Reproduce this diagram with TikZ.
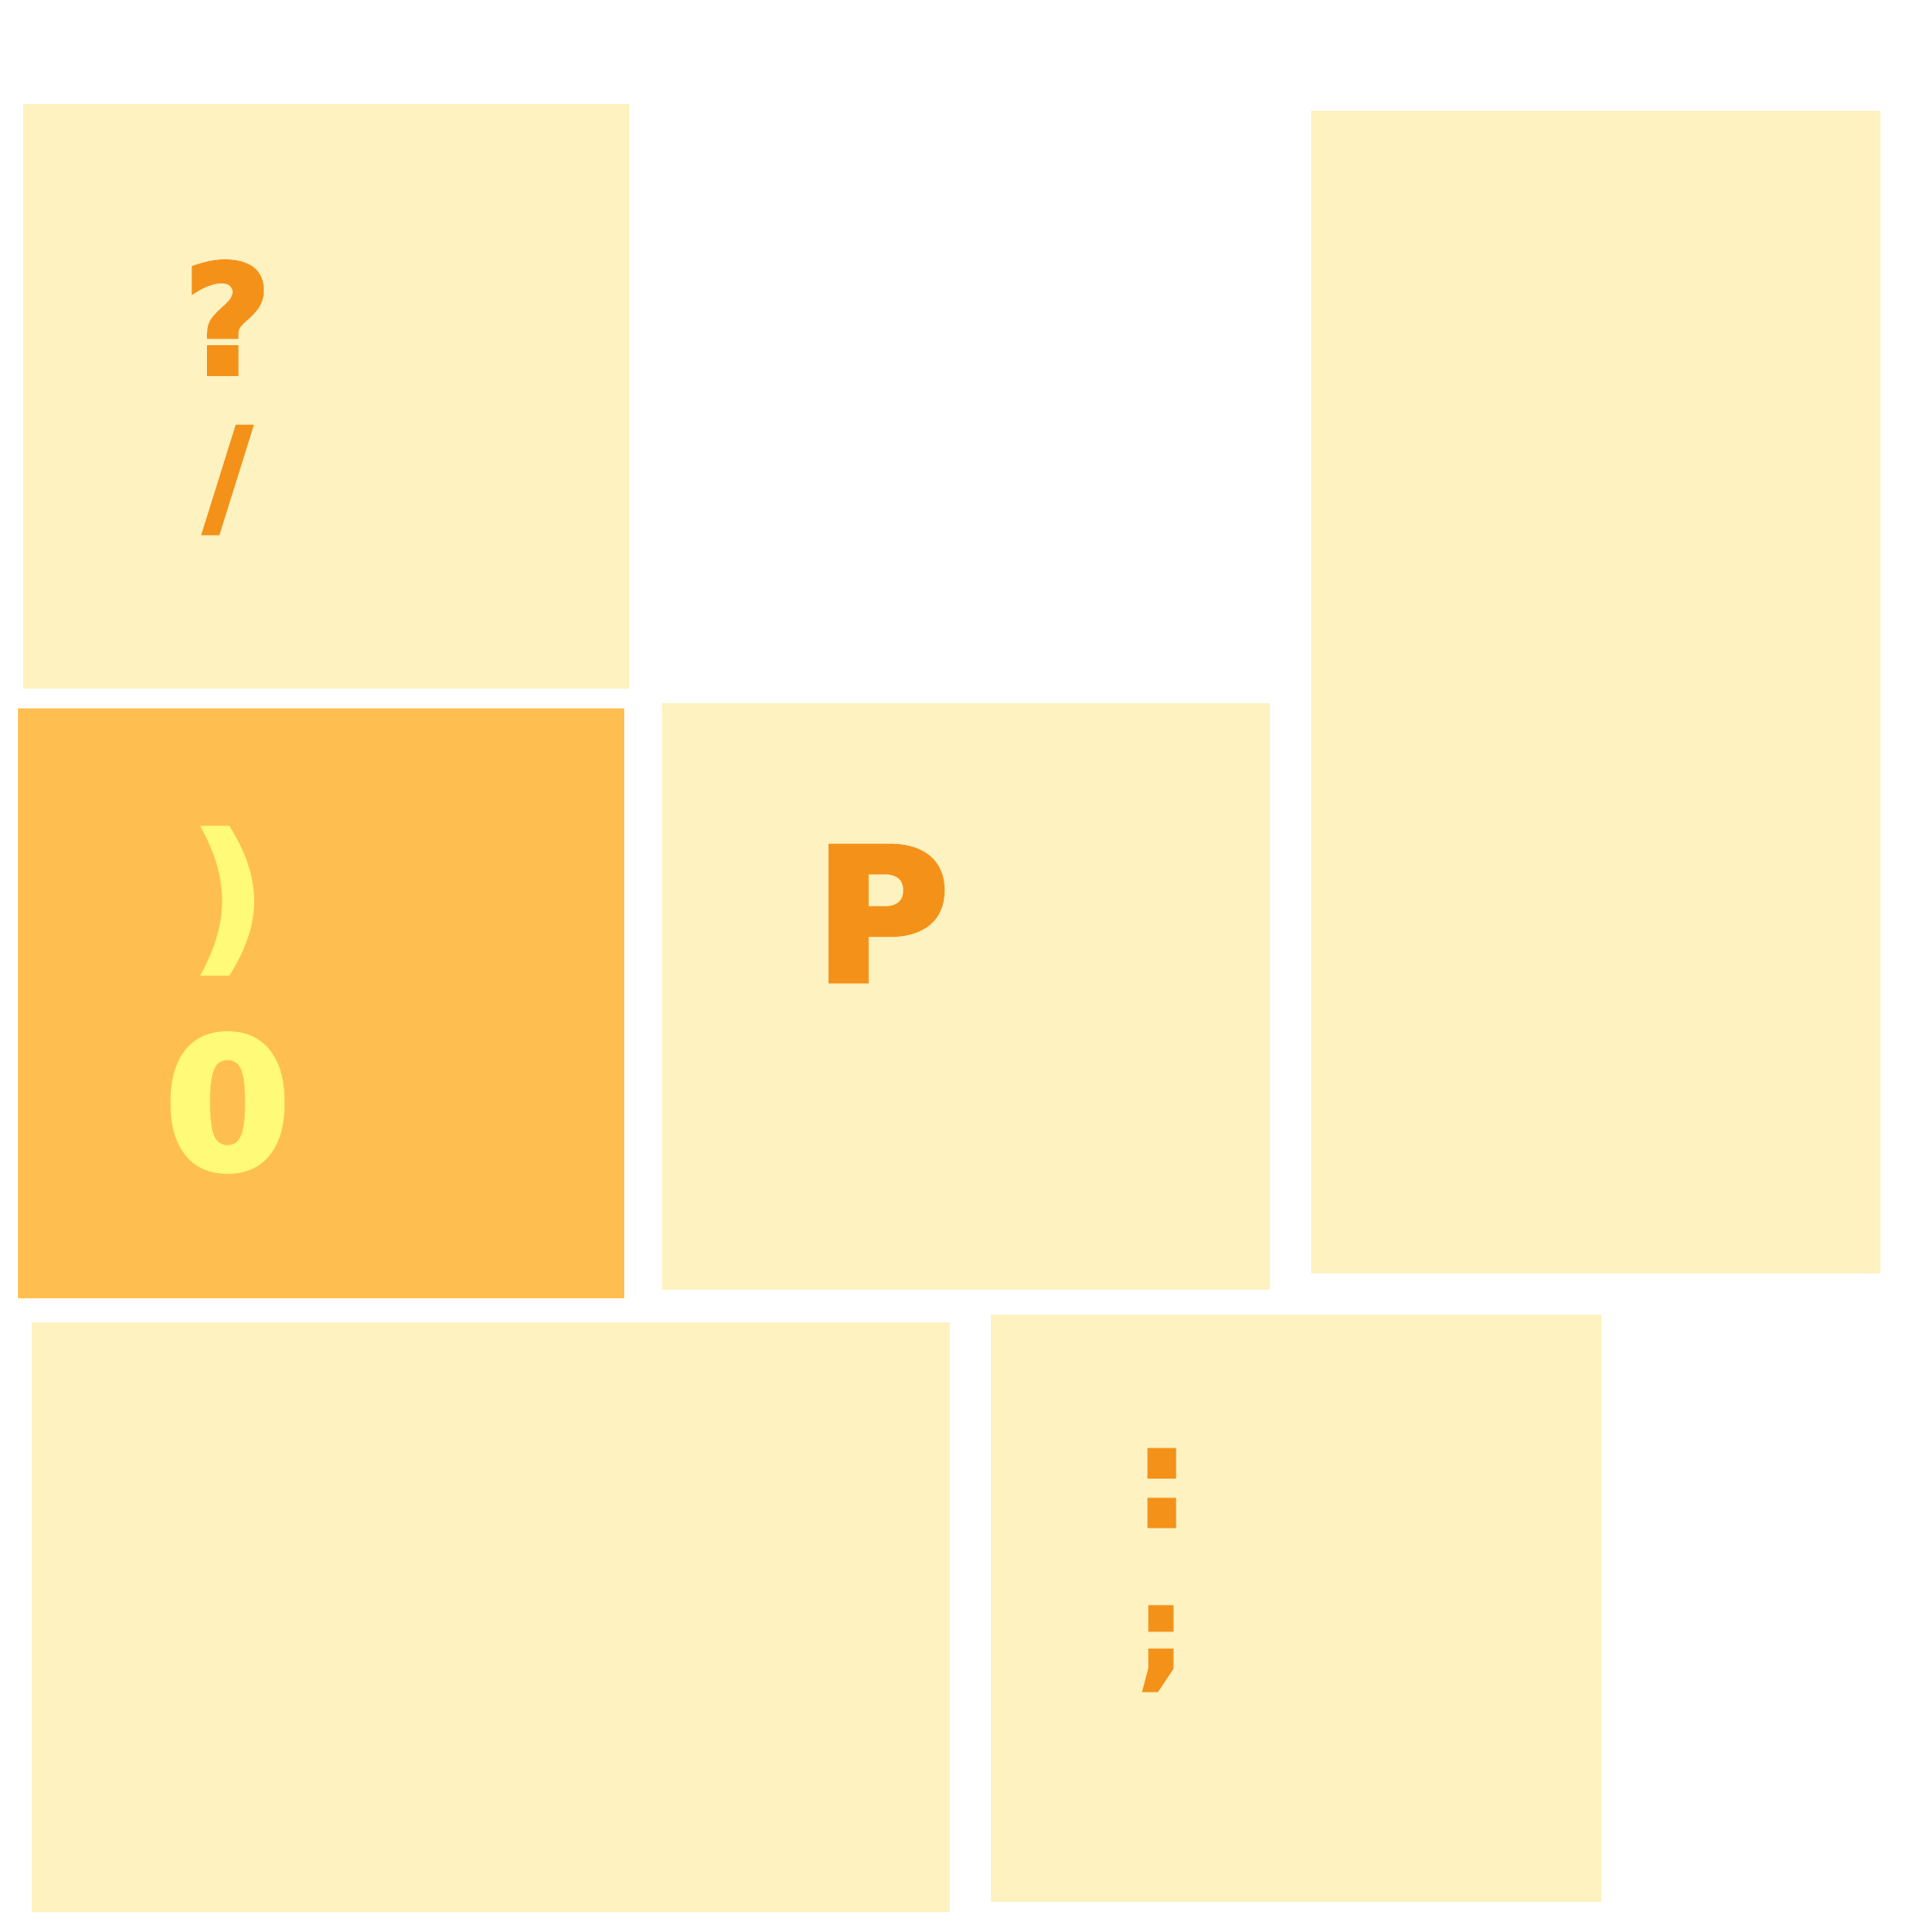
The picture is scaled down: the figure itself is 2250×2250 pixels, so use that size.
\documentclass[tikz,border=0pt]{standalone}
\usepackage{fontspec}
\setmainfont{DejaVu Sans}[FakeBold=3]
\usepackage{tikz}
\definecolor{cardpale}{RGB}{253,242,192}
\definecolor{cardorange}{RGB}{254,191,80}
\definecolor{inkorange}{RGB}{244,145,24}
\definecolor{inkyellow}{RGB}{255,250,120}
\newcommand{\glyphsize}[1]{\fontsize{#1}{#1}\selectfont\bfseries}

\begin{document}
\begin{tikzpicture}[x=0.01cm, y=-0.01cm]
		\tikzstyle{pale} = [fill=cardpale]
		\tikzstyle{hot} = [fill=cardorange]
		\tikzstyle{glyph} = [inner sep=0pt, anchor=center, text=inkorange]
		\tikzstyle{glyphlight} = [glyph, text=inkyellow]

		\useasboundingbox (0,0) rectangle (2250,2250);

		% cards
		\path[pale] (27,121) rectangle (733,802);
		\path[hot] (21,825) rectangle (727,1512);
		\path[pale] (771,819) rectangle (1479,1502);
		\path[pale] (1527,129) rectangle (2190,1483);
		\path[pale] (37,1540) rectangle (1106,2227);
		\path[pale] (1154,1531) rectangle (1865,2215);

		% characters
		\path
		node[glyph, font=\glyphsize{50}] (qmark) at (265,370) {?}
		node[glyph, font=\glyphsize{43}] (slash) at (265,559) {/}
		node[glyphlight, font=\glyphsize{54}] (paren) at (266,1049) {)}
		node[glyphlight, font=\glyphsize{60}] (zero) at (265,1284) {0}
		node[glyph, font=\glyphsize{61}] (pee) at (1027,1064) {P}
		node[glyph, font=\glyphsize{46}] (colon) at (1353,1733) {:}
		node[glyph, font=\glyphsize{40}] (semi) at (1352,1920) {;}
		;
\end{tikzpicture}
\end{document}
